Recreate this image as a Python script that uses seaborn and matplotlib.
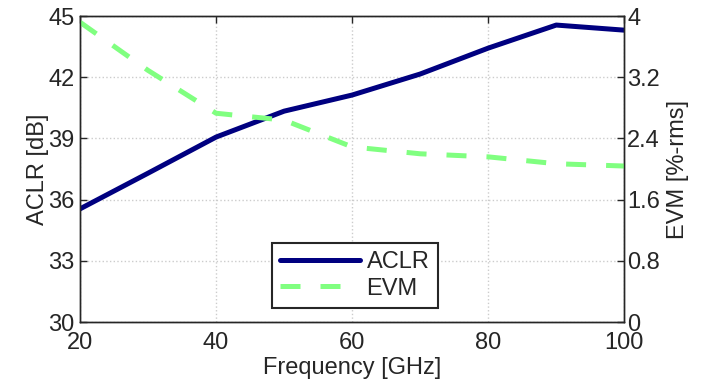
import numpy as np
import pandas as pd
import seaborn as sns
import matplotlib
matplotlib.use('Agg')
import matplotlib.pyplot as plt

sns.set_style('white')
plt.rcParams['font.family'] = ['Liberation Sans', 'DejaVu Sans']

# Dados
frequencia = [20, 30, 40, 50, 60, 70, 80, 90, 100]
aclr = [35.55, 37.3, 39.07, 40.34, 41.13, 42.16, 43.43, 44.56, 44.31]
evm = [3.92, 3.29, 2.73, 2.64, 2.29, 2.2, 2.16, 2.07, 2.04]

df = pd.DataFrame({'freq': frequencia, 'aclr': aclr, 'evm': evm})

cor_texto = '#262626'
fs = 17

fig = plt.figure(figsize=(7.05, 3.83), dpi=100)
ax = fig.add_axes([0.1135, 0.159, 0.772, 0.799])
ax2 = ax.twinx()

sns.lineplot(data=df, x='freq', y='aclr', ax=ax, color='#000080',
             linewidth=3.6, label='ACLR', legend=False)
sns.lineplot(data=df, x='freq', y='evm', ax=ax2, color='#80FF80',
             linewidth=3.6, dashes=False, label='EVM', legend=False)
ax2.lines[0].set_dashes([4, 4])

ax.set_xlim(20, 100)
ax.set_ylim(30, 45)
ax2.set_ylim(0, 4)
ax.set_xticks([20, 40, 60, 80, 100])
ax.set_yticks([30, 33, 36, 39, 42, 45])
ax2.set_yticks([0, 0.8, 1.6, 2.4, 3.2, 4])
ax2.set_yticklabels(['0', '0.8', '1.6', '2.4', '3.2', '4'])

# Grade pontilhada
ax.grid(True, linestyle=':', color='#cccccc', linewidth=1.0)

ax.set_xlabel('Frequency [GHz]', fontsize=fs, color=cor_texto, labelpad=2)
ax.set_ylabel('ACLR [dB]', fontsize=fs, color=cor_texto, labelpad=-1)
ax2.set_ylabel('EVM [%-rms]', fontsize=fs, color=cor_texto, labelpad=5)

for a in (ax, ax2):
    for s in a.spines.values():
        s.set_color(cor_texto)
        s.set_linewidth(1.0)
ax.tick_params(axis='both', direction='in', length=5, width=1, colors=cor_texto,
               labelsize=fs, top=True)
ax.tick_params(axis='x', pad=7)
ax.tick_params(axis='y', right=False, pad=4)
ax2.tick_params(axis='y', direction='in', length=5, width=1, colors=cor_texto,
                labelsize=fs, pad=2)

# Legenda combinada
h1 = ax.lines[0]
h2 = ax2.lines[0]
leg = ax2.legend([h1, h2], ['ACLR', 'EVM'], loc='lower left',
                 bbox_to_anchor=(0.353, 0.046), borderaxespad=0,
                 fontsize=fs, handlelength=3.35, handletextpad=0.3,
                 borderpad=0.35, labelspacing=0.2, fancybox=False, framealpha=1)
leg.get_frame().set_edgecolor(cor_texto)
leg.get_frame().set_linewidth(1.5)
for t in leg.get_texts():
    t.set_color(cor_texto)

plt.savefig('out.png', dpi=100)
plt.close()
